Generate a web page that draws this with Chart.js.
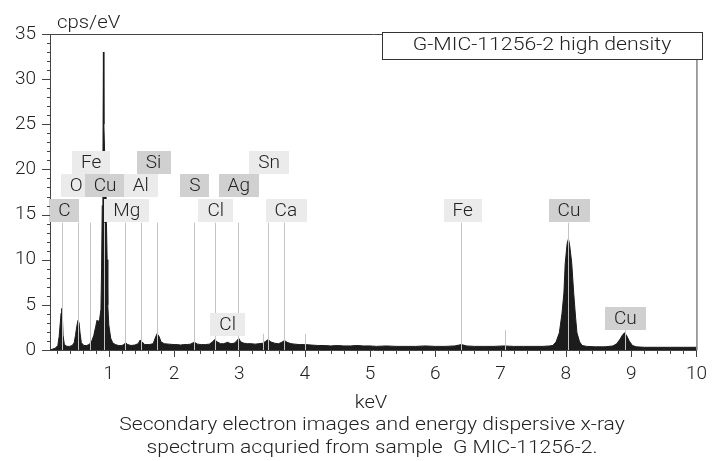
<!DOCTYPE html>
<html>
<head>
<meta charset="utf-8">
<script src="https://cdn.jsdelivr.net/npm/chart.js@4.4.1/dist/chart.umd.min.js"></script>
<style>
  html, body { margin: 0; padding: 0; background: #fff; }
</style>
</head>
<body>
<canvas id="eds" width="720" height="461"></canvas>
<script>
// spectrum (keV / cps per eV)
const energy = [
  0.10, 0.14, 0.18, 0.22, 0.24, 0.26, 0.27, 0.28, 0.29, 0.30,
  0.32, 0.36, 0.40, 0.44, 0.47, 0.49, 0.51, 0.53, 0.545, 0.56,
  0.58, 0.62, 0.66, 0.70, 0.74, 0.77, 0.80, 0.82, 0.84, 0.86,
  0.88, 0.89, 0.90, 0.91, 0.918, 0.925, 0.94, 0.955, 0.965, 0.975,
  0.985, 1.00, 1.03, 1.06, 1.10, 1.15, 1.20, 1.23, 1.26, 1.29,
  1.34, 1.40, 1.45, 1.48, 1.51, 1.55, 1.62, 1.68, 1.71, 1.74,
  1.77, 1.80, 1.85, 1.92, 2.00, 2.05, 2.10, 2.15, 2.20, 2.25,
  2.31, 2.36, 2.42, 2.48, 2.54, 2.59, 2.62, 2.66, 2.71, 2.76,
  2.82, 2.87, 2.92, 2.96, 2.99, 3.02, 3.07, 3.12, 3.18, 3.24,
  3.30, 3.36, 3.41, 3.44, 3.48, 3.54, 3.60, 3.65, 3.69, 3.73,
  3.79, 3.85, 3.92, 4.00, 4.10, 4.20, 4.30, 4.40, 4.50, 4.60,
  4.70, 4.80, 4.90, 5.00, 5.10, 5.25, 5.40, 5.55, 5.70, 5.85,
  6.00, 6.15, 6.30, 6.40, 6.48, 6.60, 6.75, 6.90, 7.05, 7.20,
  7.35, 7.50, 7.65, 7.75, 7.80, 7.85, 7.90, 7.94, 7.97, 7.99,
  8.02, 8.04, 8.06, 8.09, 8.12, 8.15, 8.17, 8.21, 8.25, 8.32,
  8.45, 8.60, 8.72, 8.78, 8.83, 8.87, 8.90, 8.93, 8.97, 9.02,
  9.08, 9.20, 9.40, 9.60, 9.80, 10.0
];
const cps = [
  0.0, 0.1, 0.2, 0.5, 1.5, 3.2, 4.1, 4.6, 3.6, 1.6,
  0.6, 0.4, 0.4, 0.5, 0.8, 1.6, 2.6, 3.3, 3.0, 1.9,
  0.8, 0.5, 0.5, 0.6, 1.0, 1.6, 2.6, 3.3, 3.1, 3.4,
  4.5, 9.0, 16.0, 20.5, 33.0, 25.0, 21.0, 19.0, 14.0, 10.0,
  5.0, 2.8, 1.3, 0.8, 0.6, 0.5, 0.5, 0.6, 0.8, 0.6,
  0.5, 0.55, 0.7, 1.1, 0.9, 0.6, 0.6, 0.7, 1.3, 1.8,
  1.5, 0.9, 0.7, 0.65, 0.6, 0.6, 0.55, 0.6, 0.6, 0.65,
  0.85, 0.65, 0.6, 0.6, 0.65, 0.9, 1.15, 0.9, 0.7, 0.7,
  0.85, 0.7, 0.75, 1.0, 1.3, 0.9, 0.75, 0.7, 0.7, 0.65,
  0.7, 0.75, 1.0, 1.15, 0.9, 0.75, 0.7, 0.85, 1.05, 0.85,
  0.7, 0.65, 0.6, 0.6, 0.55, 0.5, 0.5, 0.45, 0.5, 0.45,
  0.45, 0.5, 0.45, 0.45, 0.4, 0.45, 0.4, 0.4, 0.4, 0.45,
  0.4, 0.4, 0.45, 0.6, 0.45, 0.4, 0.4, 0.4, 0.45, 0.4,
  0.4, 0.4, 0.4, 0.45, 0.5, 0.9, 1.9, 4.0, 6.3, 9.6,
  11.8, 12.3, 11.5, 9.6, 6.3, 3.5, 1.9, 0.9, 0.5, 0.4,
  0.35, 0.35, 0.45, 0.7, 1.2, 1.7, 1.9, 1.6, 1.0, 0.5,
  0.35, 0.3, 0.3, 0.3, 0.3, 0.3
];

// element marker lines
const lineEnergy = [0.277, 0.525, 0.705, 0.930, 1.254, 1.487, 1.740, 2.307, 2.622, 2.984,
                    3.360, 3.444, 3.691, 4.010, 6.400, 7.070, 8.040, 8.905];
const lineTop    = [14.1, 14.1, 14.1, 14.1, 14.1, 14.1, 14.1, 14.1, 14.1, 14.1,
                    1.8, 14.1, 14.1, 1.8, 14.1, 2.2, 14.1, 2.2];

// element tags
const tagText   = ['Fe', 'Si', 'Sn', 'O', 'Cu', 'Al', 'S', 'Ag', 'C', 'Mg', 'Cl', 'Ca', 'Fe', 'Cu', 'Cl', 'Cu'];
const tagEnergy = [0.73, 1.685, 3.455, 0.50, 0.944, 1.489, 2.32, 2.99, 0.32, 1.277, 2.638, 3.712, 6.42, 8.047, 2.82, 8.91];
const tagLevel  = [20.8, 20.8, 20.8, 18.2, 18.2, 18.2, 18.2, 18.2, 15.5, 15.5, 15.5, 15.5, 15.5, 15.5, 2.8, 3.5];
const tagDark   = [false, true, false, false, true, false, true, true, true, false, false, false, false, true, false, true];

const xTicks = [1, 2, 3, 4, 5, 6, 7, 8, 9, 10];
const yTicks = [0, 5, 10, 15, 20, 25, 30, 35];
const sampleName = 'G-MIC-11256-2 high density';
const caption = ['Secondary electron images and energy dispersive x-ray',
                 'spectrum acquried from sample  G MIC-11256-2.'];

const FONT = 'Roboto';
const INK = '#222';

Chart.defaults.font.family = FONT;
Chart.defaults.font.weight = '300';
Chart.defaults.color = INK;

// text in the source is a little wider than Roboto, so stretch it sideways
function wideText(ctx, text, x, y, align, size, stretch) {
  ctx.save();
  ctx.font = '300 ' + size + 'px ' + FONT;
  ctx.textAlign = align;
  ctx.textBaseline = 'alphabetic';
  ctx.translate(x, y);
  ctx.scale(stretch, 1);
  ctx.fillText(text, 0, 0);
  ctx.restore();
}

const decor = {
  id: 'decor',
  afterDatasetsDraw(chart) {
    const { ctx, scales: { x, y } } = chart;
    ctx.save();
    // marker lines
    ctx.strokeStyle = '#c4c4c4';
    ctx.lineWidth = 1;
    lineEnergy.forEach((e, i) => {
      const px = Math.round(x.getPixelForValue(e)) + 0.5;
      ctx.beginPath();
      ctx.moveTo(px, y.getPixelForValue(0));
      ctx.lineTo(px, y.getPixelForValue(lineTop[i]));
      ctx.stroke();
    });
    // tags
    ctx.font = '300 19px ' + FONT;
    ctx.textAlign = 'center';
    ctx.textBaseline = 'middle';
    tagText.forEach((t, i) => {
      const cx = x.getPixelForValue(tagEnergy[i]);
      const cy = y.getPixelForValue(tagLevel[i]);
      const w = ctx.measureText(t).width + 18;
      ctx.fillStyle = tagDark[i] ? '#d0d0d0' : '#ebebeb';
      ctx.fillRect(Math.round(cx - w / 2), Math.round(cy - 11.5), Math.round(w), 23);
      ctx.fillStyle = INK;
      ctx.fillText(t, cx, cy + 1);
    });
    ctx.restore();
  },
  afterDraw(chart) {
    const { ctx, chartArea: a, scales: { x, y } } = chart;
    ctx.save();
    ctx.strokeStyle = '#444';
    ctx.lineWidth = 1;
    // frame top / right
    ctx.beginPath();
    ctx.moveTo(a.left, a.top + 0.5);
    ctx.lineTo(a.right + 0.5, a.top + 0.5);
    ctx.lineTo(a.right + 0.5, a.bottom);
    ctx.stroke();
    // x ticks every 0.2 keV
    ctx.beginPath();
    for (let i = 1; i <= 50; i++) {
      const v = i / 5;
      if (v < x.min) continue;
      const px = Math.round(x.getPixelForValue(v)) + 0.5;
      const len = i % 5 === 0 ? 7 : 4;
      ctx.moveTo(px, a.bottom);
      ctx.lineTo(px, a.bottom + len);
    }
    // y ticks every 1
    for (let i = 0; i <= 35; i++) {
      const py = Math.round(y.getPixelForValue(i)) + 0.5;
      const len = i % 5 === 0 ? 8 : 3;
      ctx.moveTo(a.left - len, py);
      ctx.lineTo(a.left, py);
    }
    ctx.stroke();

    // sample box
    ctx.fillStyle = '#fff';
    ctx.fillRect(382, 32, 321, 28);
    ctx.strokeStyle = '#333';
    ctx.strokeRect(382.5, 32.5, 320, 27);
    ctx.fillStyle = INK;
    wideText(ctx, sampleName, 542, 50, 'center', 18, 1.18);

    // unit, axis title, caption
    wideText(ctx, 'cps/eV', 57, 28, 'left', 18, 1.13);
    wideText(ctx, 'keV', 371, 408, 'center', 18, 1.12);
    wideText(ctx, caption[0], 372, 430, 'center', 18.5, 1.14);
    wideText(ctx, caption[1], 372, 453, 'center', 18.5, 1.14);
    ctx.restore();
  }
};

new Chart(document.getElementById('eds'), {
  type: 'line',
  data: {
    datasets: [{
      data: energy.map((e, i) => ({ x: e, y: cps[i] })),
      borderColor: '#1c1c1c',
      backgroundColor: '#1c1c1c',
      borderWidth: 1,
      pointRadius: 0,
      fill: 'origin',
      tension: 0
    }]
  },
  options: {
    responsive: false,
    animation: false,
    events: [],
    layout: { padding: { top: 34, right: 17, left: 0, bottom: 0 } },
    plugins: { legend: { display: false }, tooltip: { enabled: false } },
    scales: {
      x: {
        type: 'linear',
        min: 0.1,
        max: 10,
        afterBuildTicks: s => { s.ticks = xTicks.map(v => ({ value: v })); },
        afterFit: s => { s.height = 111; },
        grid: { display: true, drawOnChartArea: false, drawTicks: false },
        border: { display: true, color: '#444', width: 1 },
        ticks: { padding: 13, maxRotation: 0, font: { size: 19, weight: '300' } }
      },
      y: {
        min: 0,
        max: 35,
        afterBuildTicks: s => { s.ticks = yTicks.map(v => ({ value: v })); },
        afterFit: s => { s.width = 50; },
        grid: { display: true, drawOnChartArea: false, drawTicks: false },
        border: { display: true, color: '#444', width: 1 },
        ticks: { padding: 14, font: { size: 19, weight: '300' } }
      }
    }
  },
  plugins: [decor]
});
</script>
</body>
</html>
